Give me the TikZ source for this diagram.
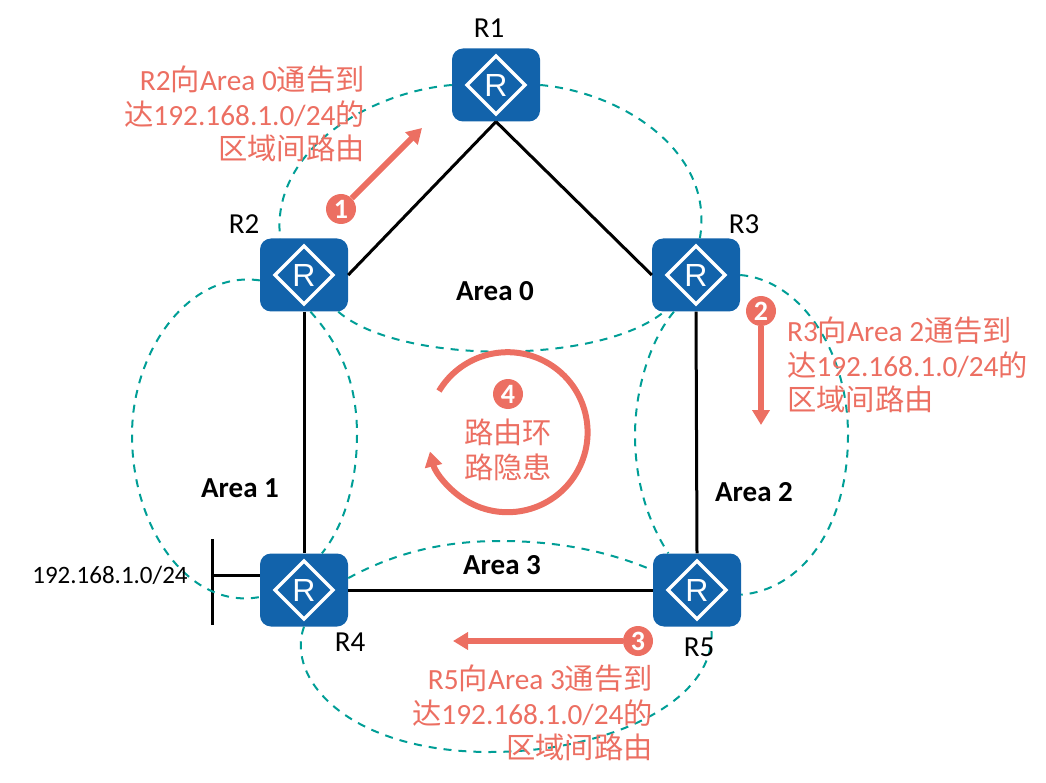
\documentclass[tikz,border=0pt]{standalone}
\usepackage{fontspec}
\setmainfont{Carlito}
\newfontfamily\routerfont{Liberation Sans}
\newfontfamily\cjk{Noto Sans CJK SC}
\definecolor{hwblue}{RGB}{18,99,171}
\definecolor{hwteal}{RGB}{0,158,150}
\definecolor{hwred}{RGB}{236,111,98}
\usetikzlibrary{arrows.meta,calc}
\newcommand{\zh}[1]{{\cjk #1}}

\begin{document}
\begin{tikzpicture}[x=1pt,y=-1pt,
  router/.style={draw=none,fill=hwblue,rounded corners=11pt,minimum width=88pt,minimum height=73pt,
    inner sep=0pt,text=white,font=\routerfont\fontsize{32}{32}\selectfont,
    path picture={\draw[white,line width=3.5pt,sharp corners]
      ($(path picture bounding box.center)+(-29,0)$) -- ($(path picture bounding box.center)+(0,-29)$)
      -- ($(path picture bounding box.center)+(29,0)$) -- ($(path picture bounding box.center)+(0,29)$) -- cycle;}},
  routername/.style={font=\fontsize{29}{29}\selectfont,inner sep=0pt},
  subnetlabel/.style={font=\fontsize{25}{25}\selectfont,inner sep=0pt},
  arealabel/.style={font=\bfseries\fontsize{29}{29}\selectfont,inner sep=0pt},
  notelabel/.style={text=hwred,align=right,font=\fontsize{29.3}{34.5}\selectfont,inner sep=0pt},
  stepmark/.style={circle,fill=hwred,text=white,minimum size=30pt,inner sep=0pt,
    font=\bfseries\fontsize{28}{28}\selectfont},
  link/.style={line width=3pt,black},
  arealine/.style={hwteal,line width=2pt,dash pattern=on 8pt off 7pt},
  notearrow/.style={hwred,line width=6pt,-{Triangle[length=15pt,width=17pt]}}
]
  \useasboundingbox (0,0) rectangle (1046,783);

  % routers
  \node[router] (R1) at (496,85) {R};
  \node[router] (R2) at (304,275) {R};
  \node[router] (R3) at (696,275) {R};
  \node[router] (R4) at (304,590) {R};
  \node[router] (R5) at (697,590) {R};

  % links
  \draw[link] (R1.south) -- (R2.east);
  \draw[link] (R1.south) -- (R3.west);
  \draw[link] (R2.south) -- (R4.north);
  \draw[link] (R3.south) -- (R5.north);
  \draw[link] (R4.east) -- (R5.west);

  % stub network
  \coordinate (stubtop) at (212,539);
  \coordinate (stubbot) at (212,625);
  \coordinate (stubmid) at (212,575);
  \draw[link] (stubtop) -- (stubbot);
  \draw[link] (stubmid) -- (R4.west |- stubmid);

  % areas
  \draw[arealine] (R1.west) .. controls (370,92) and (270,150) .. (R2.123);
  \draw[arealine] (R1.east) .. controls (620,92) and (715,150) .. (R3.84);
  \draw[arealine] (R2.-47) .. controls (400,365) and (600,365) .. (R3.-131);
  \draw[arealine] (R2.187) .. controls (190,270) and (132,350) .. (132,435)
    .. controls (132,530) and (190,610) .. (R4.189);
  \draw[arealine] (R2.-80) .. controls (345,350) and (357,390) .. (357,435)
    .. controls (357,480) and (345,525) .. (R4.64);
  \draw[arealine] (R3.east) .. controls (800,280) and (848,350) .. (848,435)
    .. controls (848,530) and (800,590) .. (R5.-6);
  \draw[arealine] (R3.-121) .. controls (650,340) and (635,390) .. (635,435)
    .. controls (635,485) and (650,525) .. (R5.128);
  \draw[arealine] (R4.15) .. controls (400,550) and (450,541) .. (500,541)
    .. controls (560,541) and (610,552) .. (R5.156);
  \draw[arealine] (R4.south) .. controls (285,680) and (350,752) .. (490,752)
    .. controls (610,752) and (720,700) .. (R5.-69);

  % names
  \node[routername] (nameR1) at (489,28) {R1};
  \node[routername] (nameR2) at (244,224) {R2};
  \node[routername] (nameR3) at (744,224) {R3};
  \node[routername] (nameR4) at (350,642) {R4};
  \node[routername] (nameR5) at (699,647) {R5};
  \node[subnetlabel] (subnet) at (110,575) {192.168.1.0/24};
  \node[arealabel] (area0) at (495,291) {Area 0};
  \node[arealabel] (area1) at (240,488) {Area 1};
  \node[arealabel] (area2) at (754,492) {Area 2};
  \node[arealabel] (area3) at (502,565) {Area 3};

  % steps
  \coordinate (tip1) at (422,128);
  \coordinate (tip2) at (761,425);
  \coordinate (tip3) at (453,641);
  \node[stepmark] (step1) at (341,209) {1};
  \node[stepmark] (step2) at (761,311) {2};
  \node[stepmark] (step3) at (638,641) {3};
  \node[stepmark] (step4) at (508,394) {4};
  \draw[notearrow] (step1) -- (tip1);
  \draw[notearrow] (step2) -- (tip2);
  \draw[notearrow] (step3) -- (tip3);
  \coordinate (loopstart) at (439,391);
  \draw[notearrow] (loopstart) arc[start angle=149,end angle=-166,radius=80pt];

  % notes
  \node[notelabel,anchor=east] (note1) at (365,114) {R2\zh{向}Area 0\zh{通告到}\\\zh{达}192.168.1.0/24\zh{的}\\\zh{区域间路由}};
  \node[notelabel,anchor=west,align=left] (note2) at (787,365) {R3\zh{向}Area 2\zh{通告到}\\\zh{达}192.168.1.0/24\zh{的}\\\zh{区域间路由}};
  \node[notelabel,anchor=east] (note3) at (653,713) {R5\zh{向}Area 3\zh{通告到}\\\zh{达}192.168.1.0/24\zh{的}\\\zh{区域间路由}};
  \node[notelabel,align=center] (note4) at (508,450) {\zh{路由环}\\\zh{路隐患}};
\end{tikzpicture}
\end{document}
